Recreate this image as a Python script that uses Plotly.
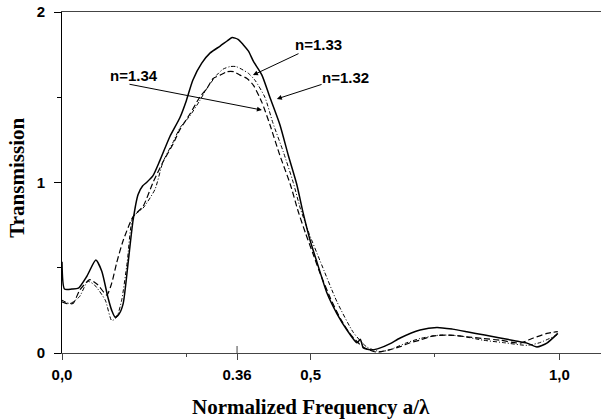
import plotly.graph_objects as go

# ---- data ----
x_132 = [0, 0.005, 0.02, 0.033, 0.05, 0.068, 0.08, 0.092, 0.1, 0.107, 0.115, 0.123, 0.133, 0.143,
         0.153, 0.162, 0.17, 0.183, 0.197, 0.217, 0.237, 0.25, 0.263, 0.281, 0.298, 0.318, 0.332,
         0.342, 0.354, 0.364, 0.375, 0.385, 0.402, 0.418, 0.438, 0.455, 0.472, 0.485, 0.499, 0.513,
         0.533, 0.553, 0.573, 0.593, 0.6, 0.606, 0.623, 0.64, 0.66, 0.68, 0.72, 0.754, 0.785, 0.814,
         0.85, 0.881, 0.91, 0.935, 0.955, 0.975, 0.997]
y_132 = [0.535, 0.375, 0.375, 0.38, 0.45, 0.545, 0.48, 0.33, 0.25, 0.21, 0.23, 0.29, 0.53, 0.78,
         0.93, 0.98, 1.0, 1.04, 1.13, 1.27, 1.38, 1.48, 1.6, 1.7, 1.76, 1.8, 1.83,
         1.85, 1.84, 1.81, 1.77, 1.71, 1.63, 1.5, 1.34, 1.16, 0.99, 0.82, 0.66, 0.53,
         0.35, 0.23, 0.135, 0.06, 0.08, 0.03, 0.018, 0.03, 0.055, 0.088, 0.135, 0.15, 0.14, 0.125,
         0.105, 0.088, 0.072, 0.058, 0.035, 0.058, 0.115]

x_133 = [0, 0.016, 0.035, 0.052, 0.065, 0.087, 0.1, 0.11, 0.12, 0.131, 0.143, 0.163, 0.187, 0.203,
         0.224, 0.237, 0.257, 0.277, 0.291, 0.311, 0.324, 0.338, 0.35, 0.364, 0.375, 0.388, 0.408,
         0.424, 0.445, 0.465, 0.479, 0.497, 0.519, 0.553, 0.586, 0.613, 0.64, 0.66, 0.693, 0.72,
         0.76, 0.8, 0.847, 0.89, 0.935, 0.96, 0.995]
y_133 = [0.31, 0.29, 0.33, 0.42, 0.40, 0.31, 0.19, 0.21, 0.31, 0.53, 0.80, 0.85, 0.96, 1.12,
         1.24, 1.32, 1.39, 1.48, 1.55, 1.63, 1.665, 1.68, 1.68, 1.66, 1.64, 1.60, 1.50,
         1.35, 1.18, 1.0, 0.85, 0.70, 0.54, 0.30, 0.12, 0.035, 0.008, 0.02, 0.06, 0.085,
         0.105, 0.1, 0.075, 0.06, 0.045, 0.06, 0.105]

x_134 = [0, 0.01, 0.022, 0.036, 0.056, 0.072, 0.09, 0.1, 0.11, 0.123, 0.143, 0.163, 0.183, 0.203,
         0.224, 0.237, 0.257, 0.277, 0.291, 0.304, 0.318, 0.332, 0.345, 0.358, 0.372, 0.385, 0.402,
         0.418, 0.438, 0.459, 0.475, 0.49, 0.505, 0.52, 0.54, 0.56, 0.58, 0.605, 0.633, 0.66, 0.68,
         0.7, 0.72, 0.746, 0.78, 0.814, 0.847, 0.881, 0.921, 0.948, 0.975, 0.997]
y_134 = [0.30, 0.29, 0.29, 0.37, 0.43, 0.40, 0.34, 0.41, 0.53, 0.66, 0.80, 0.86, 1.0, 1.12,
         1.23, 1.31, 1.40, 1.50, 1.55, 1.61, 1.63, 1.65, 1.65, 1.63, 1.61, 1.57, 1.47,
         1.34, 1.16, 0.99, 0.83, 0.70, 0.58, 0.46, 0.32, 0.20, 0.11, 0.035, 0.005, 0.02, 0.037,
         0.06, 0.076, 0.10, 0.105, 0.095, 0.085, 0.075, 0.058, 0.088, 0.115, 0.125]

x_tickvals = [0.0, 0.352, 0.5, 1.0]
x_ticktext = ["0,0", "0.36", "0,5", "1,0"]
y_tickvals = [0, 1, 2]
y_ticktext = ["0", "1", "2"]

labels = ["n=1.33", "n=1.32", "n=1.34"]
label_pos = [(0.5167, 1.812), (0.570, 1.613), (0.1448, 1.630)]
arrow_tail = [(0.4786, 1.760), (0.525, 1.578), (0.1327, 1.578)]
arrow_head = [(0.384, 1.630), (0.432, 1.490), (0.402, 1.425)]

# ---- figure ----
fig = go.Figure()
fig.add_trace(go.Scatter(x=x_132, y=y_132, mode="lines", name="n=1.32",
                         line=dict(color="black", width=1.5, shape="spline", smoothing=0.6)))
fig.add_trace(go.Scatter(x=x_133, y=y_133, mode="lines", name="n=1.33",
                         line=dict(color="black", width=1, dash="4px,2px,1px,2px",
                                   shape="spline", smoothing=0.6)))
fig.add_trace(go.Scatter(x=x_134, y=y_134, mode="lines", name="n=1.34",
                         line=dict(color="black", width=1.2, dash="6px,3px",
                                   shape="spline", smoothing=0.6)))

tickfont = dict(family="Liberation Sans, Arial, sans-serif", size=15, color="black", weight="bold")
titlefont = dict(family="Liberation Serif, Times New Roman, serif", size=21, color="black", weight="bold")

PX_PER_X = 497.3
fig.update_layout(
    width=601, height=420,
    margin=dict(l=62, r=0, t=12, b=67),
    plot_bgcolor="white", paper_bgcolor="white",
    showlegend=False,
    xaxis=dict(range=[0, 539 / PX_PER_X], showline=True, linecolor="#444", linewidth=1,
               mirror=True, ticks="outside", ticklen=6, tickcolor="#444",
               tickvals=x_tickvals, ticktext=x_ticktext, tickfont=tickfont,
               showgrid=False, zeroline=False, ticklabelstandoff=2,
               minor=dict(tickvals=[0.25, 0.75], ticks="outside", ticklen=3, tickcolor="#444")),
    yaxis=dict(range=[0, 2], showline=True, linecolor="black", linewidth=1,
               ticks="outside", ticklen=7, tickcolor="black",
               tickvals=y_tickvals, ticktext=y_ticktext, tickfont=tickfont,
               showgrid=False, zeroline=False, ticklabelstandoff=6,
               minor=dict(tickvals=[0.5, 1.5], ticks="outside", ticklen=4, tickcolor="black")),
)

# inside part of the 0.36 tick
fig.add_shape(type="line", xref="x", yref="y", x0=x_tickvals[1], x1=x_tickvals[1],
              y0=0, y1=7 / 170.5, line=dict(color="#444", width=1))

# axis titles
fig.add_annotation(text="Normalized Frequency a/λ", xref="x", yref="paper", x=0.5, y=-0.158,
                   showarrow=False, font=titlefont, xanchor="center", yanchor="middle")
fig.add_annotation(text="Transmission", xref="paper", yref="paper", x=-0.083, y=0.515,
                   showarrow=False, font=titlefont, textangle=-90,
                   xanchor="center", yanchor="middle")

# labels with arrows
for t, (lx, ly) in zip(labels, label_pos):
    fig.add_annotation(text=t, x=lx, y=ly, xref="x", yref="y", showarrow=False,
                       font=tickfont, xanchor="center", yanchor="middle")
for (tx, ty), (hx, hy) in zip(arrow_tail, arrow_head):
    fig.add_annotation(text="", x=hx, y=hy, ax=tx, ay=ty, xref="x", yref="y",
                       axref="x", ayref="y", showarrow=True, arrowhead=2, arrowsize=1,
                       arrowwidth=1, arrowcolor="black", standoff=0)

fig.write_html("out.html")
